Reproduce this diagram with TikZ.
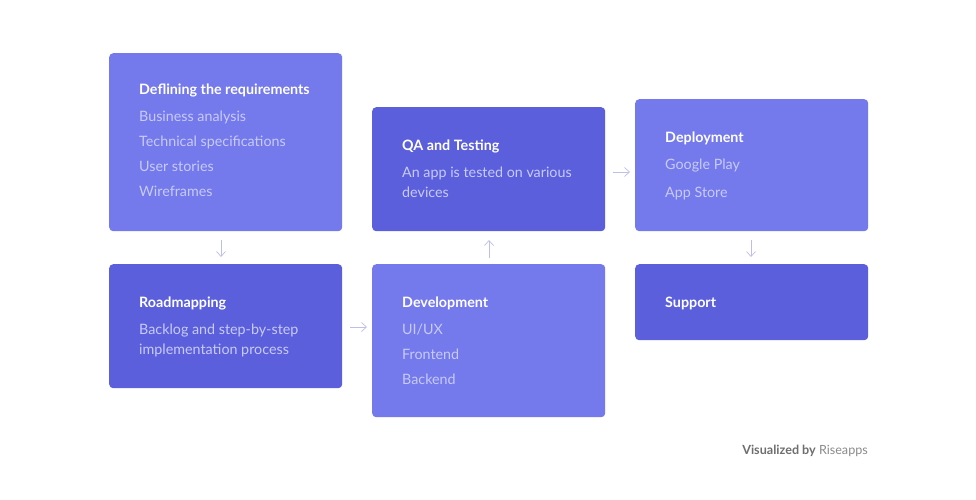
\documentclass[tikz,border=0pt]{standalone}
\usepackage{fontspec}
\setmainfont{Lato}
\usetikzlibrary{arrows.meta}
\definecolor{boxlight}{HTML}{7479EC}
\definecolor{boxdark}{HTML}{5B5FDB}
\definecolor{bodytext}{HTML}{C8CBF6}
\definecolor{arrowc}{HTML}{BDBFE8}
\definecolor{footgray}{HTML}{6E6E6E}
\definecolor{footlight}{HTML}{8A8A8A}
\tikzset{
  card/.style={draw=none, rounded corners=4pt, anchor=north west, inner sep=0pt},
  light/.style={card, fill=boxlight},
  dark/.style={card, fill=boxdark},
  ttl/.style={anchor=base west, inner sep=0pt, text=white, font=\fontsize{14.3}{16}\selectfont\bfseries},
  bdy/.style={anchor=base west, inner sep=0pt, text=bodytext, font=\fontsize{14.3}{16}\selectfont},
  flow/.style={draw=arrowc, line width=0.7pt, -{Straight Barb[length=5pt,width=9pt]}},
}
\begin{document}
\begin{tikzpicture}[x=1pt,y=-1pt]
\useasboundingbox[fill=white] (0,0) rectangle (976,499);
% boxes
\node[light, minimum width=233pt, minimum height=178pt] (req) at (109,53) {};
\node[dark, minimum width=233pt, minimum height=124pt] (road) at (109,264) {};
\node[dark, minimum width=233pt, minimum height=124pt] (qa) at (372,107) {};
\node[light, minimum width=233pt, minimum height=153pt] (dev) at (372,264) {};
\node[light, minimum width=233pt, minimum height=132pt] (dep) at (635,99) {};
\node[dark, minimum width=233pt, minimum height=76pt] (sup) at (635,264) {};
% texts
\node[ttl] (t1) at (139,94) {Deflining the requirements};
\node[bdy] (b11) at (139,121) {Business analysis};
\node[bdy] (b12) at (139,146) {Technical specifications};
\node[bdy] (b13) at (139,171) {User stories};
\node[bdy] (b14) at (139,196) {Wireframes};
\node[ttl] (t2) at (139,307) {Roadmapping};
\node[bdy] (b21) at (139,334) {Backlog and step-by-step};
\node[bdy] (b22) at (139,354) {implementation process};
\node[ttl] (t3) at (402,150) {QA and Testing};
\node[bdy] (b31) at (402,177) {An app is tested on various};
\node[bdy] (b32) at (402,197) {devices};
\node[ttl] (t4) at (402,307) {Development};
\node[bdy] (b41) at (402,334) {UI/UX};
\node[bdy] (b42) at (402,359) {Frontend};
\node[bdy] (b43) at (402,384) {Backend};
\node[ttl] (t5) at (665,142) {Deployment};
\node[bdy] (b51) at (665,169) {Google Play};
\node[bdy] (b52) at (665,197) {App Store};
\node[ttl] (t6) at (665,307) {Support};
% arrows
\coordinate (a1s) at (221,240); \coordinate (a1e) at (221,257);
\coordinate (a2s) at (350,327); \coordinate (a2e) at (367,327);
\coordinate (a3s) at (489,258); \coordinate (a3e) at (489,240);
\coordinate (a4s) at (613,172); \coordinate (a4e) at (630,172);
\coordinate (a5s) at (751,240); \coordinate (a5e) at (751,257);
\draw[flow] (a1s) -- (a1e);
\draw[flow] (a2s) -- (a2e);
\draw[flow] (a3s) -- (a3e);
\draw[flow] (a4s) -- (a4e);
\draw[flow] (a5s) -- (a5e);
% footer
\node[anchor=base east, inner sep=0pt, font=\fontsize{12.6}{14}\selectfont] (foot) at (868,454)
  {\textcolor{footgray}{\bfseries Visualized by} \textcolor{footlight}{Riseapps}};
\end{tikzpicture}
\end{document}
